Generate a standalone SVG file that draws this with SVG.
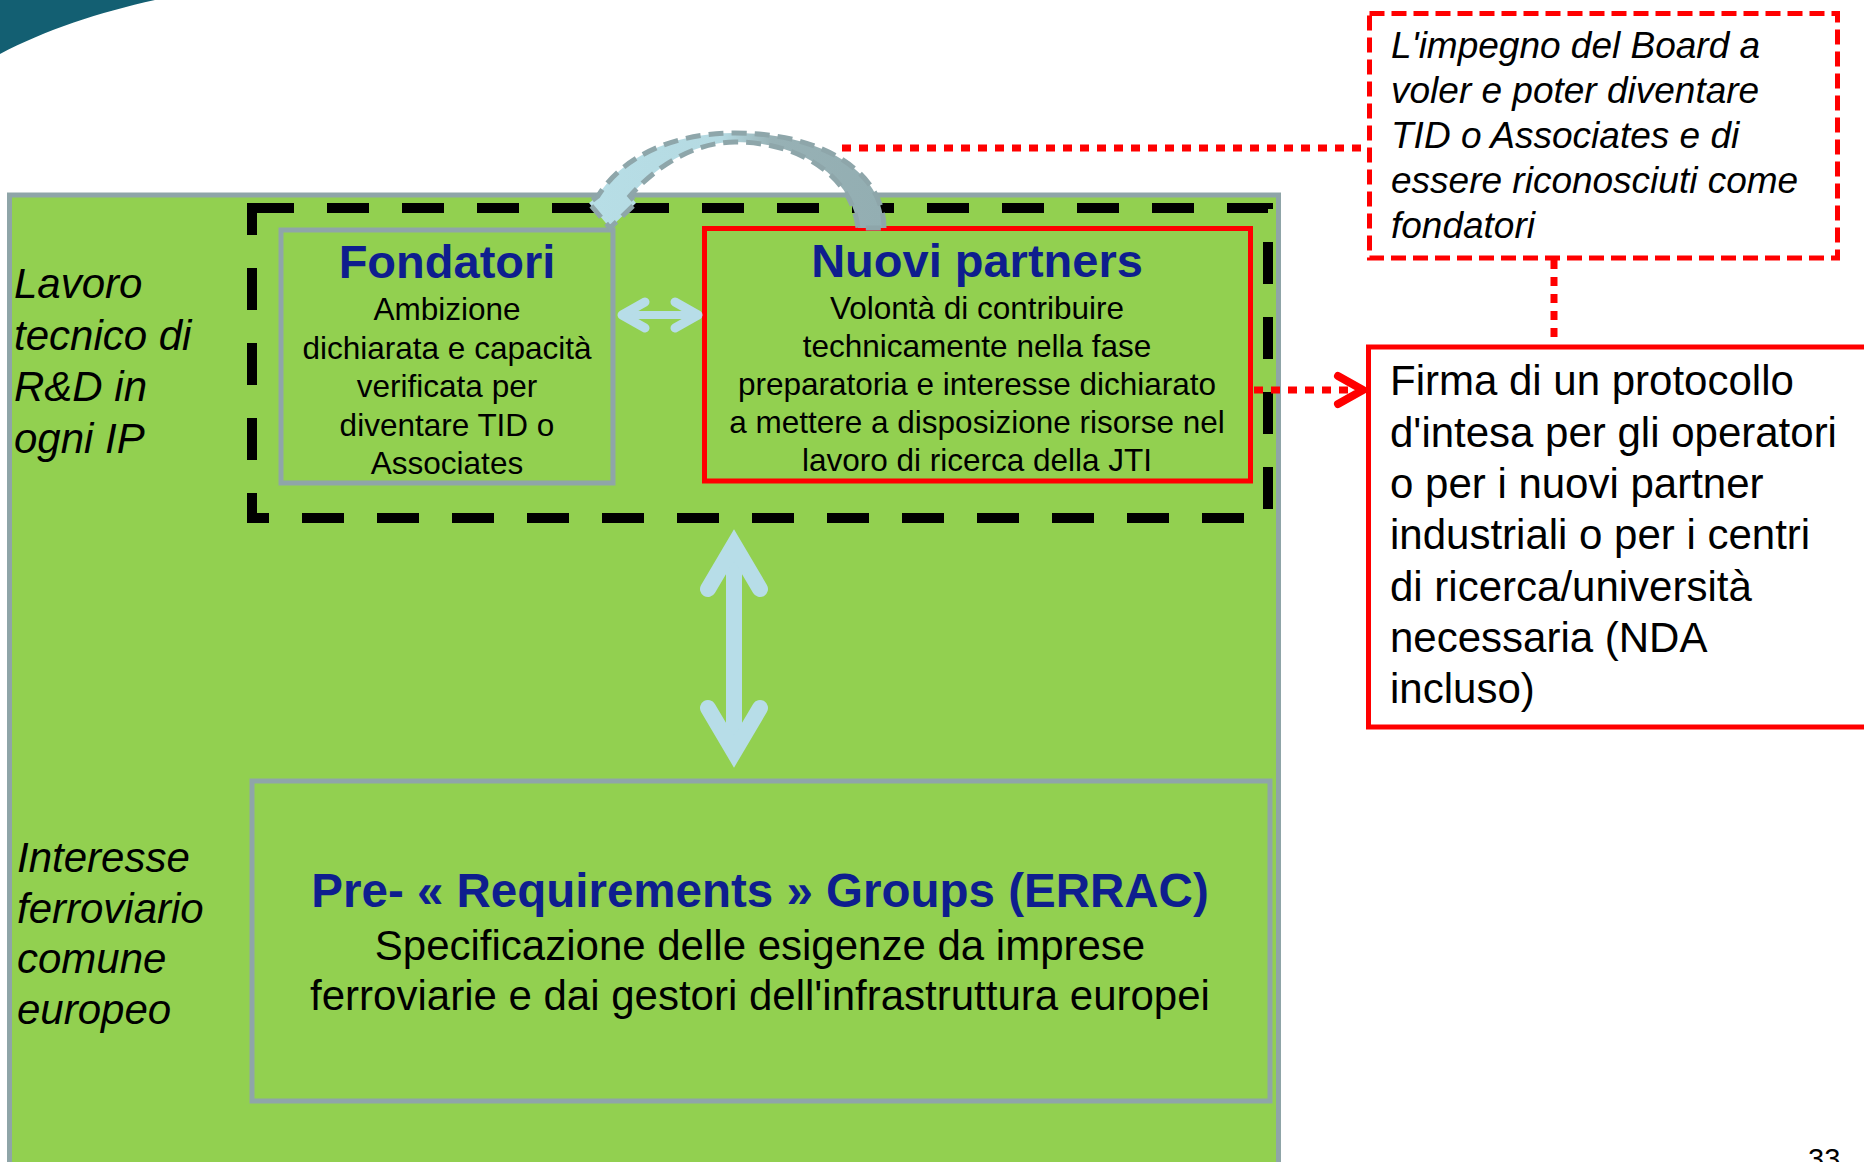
<svg xmlns="http://www.w3.org/2000/svg" width="1864" height="1162" viewBox="0 0 1864 1162">
<defs>
<style>
.lbl{font-family:"Liberation Sans",Arial,sans-serif;font-style:italic;font-size:42px;fill:#000}
.ttl{font-family:"Liberation Sans",Arial,sans-serif;font-weight:bold;fill:#0E1E8E;text-anchor:middle}
.body{font-family:"Liberation Sans",Arial,sans-serif;font-size:31.5px;fill:#000;text-anchor:middle}
.grn{fill:#92D050;stroke:#8FA5A8;stroke-width:5}
.dot{fill:none;stroke:#FF0000;stroke-width:7;stroke-dasharray:9 8}
.lb{fill:none;stroke:#B7DDE8;stroke-linecap:round}
</style>
<linearGradient id="arcg" x1="0" y1="0" x2="1" y2="0">
<stop offset="0" stop-color="#B7DEE6"/>
<stop offset="0.45" stop-color="#B5DAE2"/>
<stop offset="0.62" stop-color="#97B1B5"/>
<stop offset="1" stop-color="#93AEB2"/>
</linearGradient>
</defs>
<rect width="1864" height="1162" fill="#FFFFFF"/>
<path d="M0,0 L155,0 C100,12 45,30 0,54 Z" fill="#135F72"/>

<g id="main-panel">
<rect class="grn" x="9.5" y="195" width="1269" height="1000"/>
<text class="lbl"><tspan x="14" y="298">Lavoro</tspan><tspan x="14" y="349.5">tecnico di</tspan><tspan x="14" y="401">R&amp;D in</tspan><tspan x="14" y="452.5">ogni IP</tspan></text>
<text class="lbl"><tspan x="17" y="872">Interesse</tspan><tspan x="17" y="922.5">ferroviario</tspan><tspan x="17" y="973">comune</tspan><tspan x="17" y="1023.5">europeo</tspan></text>
</g>

<g id="group-dashed">
<rect x="252" y="208" width="1016" height="310" fill="none" stroke="#000" stroke-width="10" stroke-dasharray="42 33"/>
</g>

<g id="fondatori">
<rect class="grn" x="281" y="230" width="332" height="253"/>
<text class="ttl" x="447" y="278" font-size="47">Fondatori</text>
<text class="body"><tspan x="447" y="320">Ambizione</tspan><tspan x="447" y="358.5">dichiarata e capacità</tspan><tspan x="447" y="397">verificata per</tspan><tspan x="447" y="435.5">diventare TID o</tspan><tspan x="447" y="474">Associates</tspan></text>
</g>

<g id="nuovi-partners">
<rect x="704.5" y="228.5" width="546" height="252.5" fill="#92D050" stroke="#FF0000" stroke-width="5"/>
<text class="ttl" x="977" y="277" font-size="47">Nuovi partners</text>
<text class="body"><tspan x="977" y="318.5">Volontà di contribuire</tspan><tspan x="977" y="356.5">technicamente nella fase</tspan><tspan x="977" y="394.5">preparatoria e interesse dichiarato</tspan><tspan x="977" y="432.5">a mettere a disposizione risorse nel</tspan><tspan x="977" y="470.5">lavoro di ricerca della JTI</tspan></text>
</g>

<g id="pre-requirements">
<rect class="grn" x="252" y="781" width="1018" height="320"/>
<text class="ttl" x="760" y="907" font-size="47.5">Pre- « Requirements » Groups (ERRAC)</text>
<text class="body" font-size="42" style="font-size:42px"><tspan x="760" y="960">Specificazione delle esigenze da imprese</tspan><tspan x="760" y="1010">ferroviarie e dai gestori dell'infrastruttura europei</tspan></text>
</g>

<g id="impegno-board">
<rect x="1369.5" y="13.5" width="468" height="244.5" fill="#FFFFFF" stroke="#FF0000" stroke-width="5" stroke-dasharray="15 7"/>
<text class="lbl" style="font-size:37px"><tspan x="1391" y="58">L'impegno del Board a</tspan><tspan x="1391" y="103">voler e poter diventare</tspan><tspan x="1391" y="148">TID o Associates e di</tspan><tspan x="1391" y="193">essere riconosciuti come</tspan><tspan x="1391" y="237.5">fondatori</tspan></text>
</g>

<g id="firma-protocollo">
<rect x="1368.5" y="347" width="600" height="380" fill="#FFFFFF" stroke="#FF0000" stroke-width="5"/>
<text style="font-family:'Liberation Sans',Arial,sans-serif;font-size:42px;fill:#000"><tspan x="1390" y="395">Firma di un protocollo</tspan><tspan x="1390" y="446.5">d'intesa per gli operatori</tspan><tspan x="1390" y="498">o per i nuovi partner</tspan><tspan x="1390" y="549">industriali o per i centri</tspan><tspan x="1390" y="600.5">di ricerca/università</tspan><tspan x="1390" y="652">necessaria (NDA</tspan><tspan x="1390" y="703">incluso)</tspan></text>
</g>

<g id="connectors">
<path d="M884,228 C884,172 822,133 735,133 C668,133 620,160 598,196 L589,203 L610,228 L636,203 L630,196 C662,160 700,142 735,142 C800,142 852,176 858,228 Z" fill="url(#arcg)" stroke="#8EA6AA" stroke-width="5" stroke-dasharray="15 8"/>
<path class="lb" d="M623,315 L698,315" stroke-width="8"/>
<path class="lb" d="M645,302 L622,315 L645,328 M675,302 L698,315 L675,328" stroke-width="9" stroke-linejoin="round"/>
<path class="lb" d="M734,550 L734,748" stroke-width="16" stroke-linecap="butt"/>
<path class="lb" d="M708,589 L734,545 L760,589 M708,708 L734,752 L760,708" stroke-width="16" stroke-linejoin="miter"/>
<path class="dot" d="M842,148 L1367,148"/>
<path class="dot" d="M1554,260 L1554,345"/>
<path class="dot" d="M1254,390 L1356,390"/>
<path d="M1338,376 L1363,390 L1338,404" fill="none" stroke="#FF0000" stroke-width="8" stroke-linecap="round" stroke-linejoin="round"/>
</g>

<text x="1808" y="1169" style="font-family:'Liberation Sans',Arial,sans-serif;font-size:29px;fill:#000">33</text>
</svg>
